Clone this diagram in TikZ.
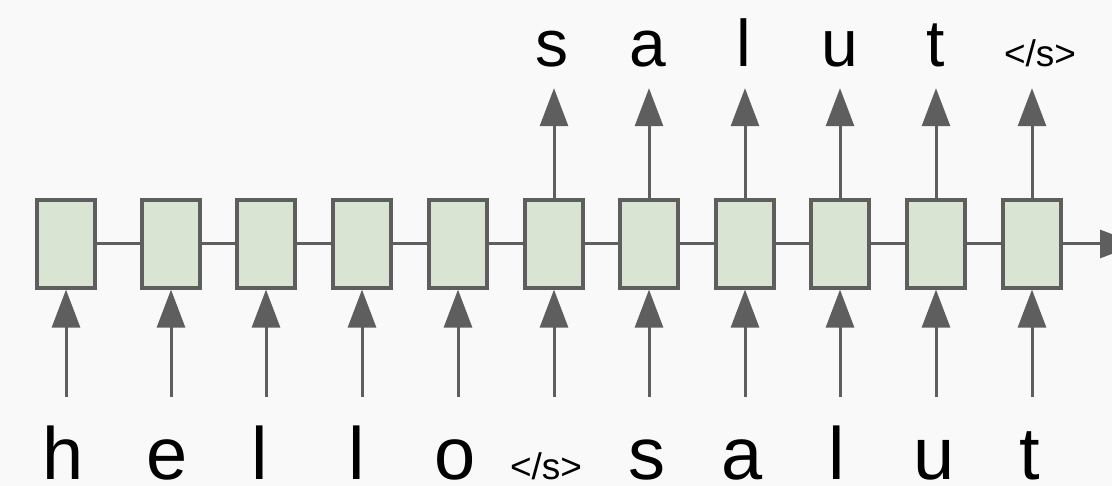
\documentclass[tikz,border=0pt]{standalone}
\usepackage{fontspec}
\setmainfont{Liberation Sans}
\usepackage{xcolor}
\usetikzlibrary{arrows.meta}

\definecolor{bgcol}{HTML}{F9F9F9}
\definecolor{cellfill}{HTML}{D9E5D2}
\definecolor{linecol}{HTML}{5E5E5E}

\begin{document}
\begin{tikzpicture}[x=1pt, y=-1pt,
    cell/.style={draw=linecol, fill=cellfill, line width=3.2pt, minimum width=58pt, minimum height=88pt, inner sep=0pt},
    link/.style={draw=linecol, line width=3pt},
    feed/.style={draw=linecol, line width=3pt, -{Triangle[length=38pt, width=28pt]}},
    inword/.style={anchor=base, font=\fontsize{74}{76}\selectfont, text height=82pt, text depth=0pt, inner sep=0pt},
    outword/.style={anchor=base, font=\fontsize{66}{70}\selectfont, text height=40pt, text depth=21pt, inner sep=0pt},
    eos/.style={font=\fontsize{37}{40}\selectfont}]
    \fill[bgcol] (0,0) rectangle (1112,486);
    \clip (0,0) rectangle (1112,486);

    % encoder / decoder cells
    \node[cell] (c1) at (66, 244) {};
    \node[cell] (c2) at (171, 244) {};
    \node[cell] (c3) at (266, 244) {};
    \node[cell] (c4) at (362, 244) {};
    \node[cell] (c5) at (458, 244) {};
    \node[cell] (c6) at (554, 244) {};
    \node[cell] (c7) at (649, 244) {};
    \node[cell] (c8) at (745, 244) {};
    \node[cell] (c9) at (840, 244) {};
    \node[cell] (c10) at (936, 244) {};
    \node[cell] (c11) at (1032, 244) {};
    \coordinate (tail) at (1138, 244);

    % input tokens
    \node[inword] (in1) at (63, 479) {h};
    \node[inword] (in2) at (167, 479) {e};
    \node[inword] (in3) at (260, 479) {l};
    \node[inword] (in4) at (357, 479) {l};
    \node[inword] (in5) at (455, 479) {o};
    \node[inword, eos] (in6) at (546, 479) {</s>};
    \node[inword] (in7) at (647, 479) {s};
    \node[inword] (in8) at (742, 479) {a};
    \node[inword] (in9) at (837, 479) {l};
    \node[inword] (in10) at (934, 479) {u};
    \node[inword] (in11) at (1030, 479) {t};

    % output tokens
    \node[outword] (out6) at (552, 67) {s};
    \node[outword] (out7) at (648, 67) {a};
    \node[outword] (out8) at (744, 67) {l};
    \node[outword] (out9) at (840, 67) {u};
    \node[outword] (out10) at (936, 67) {t};
    \node[outword, eos] (out11) at (1040, 67) {</s>};

    % recurrent links
    \draw[link] (c1) -- (c2);
    \draw[link] (c2) -- (c3);
    \draw[link] (c3) -- (c4);
    \draw[link] (c4) -- (c5);
    \draw[link] (c5) -- (c6);
    \draw[link] (c6) -- (c7);
    \draw[link] (c7) -- (c8);
    \draw[link] (c8) -- (c9);
    \draw[link] (c9) -- (c10);
    \draw[link] (c10) -- (c11);
    \draw[feed] (c11) -- (tail);

    % inputs into the cells
    \draw[feed] (in1.north -| c1) -- (c1);
    \draw[feed] (in2.north -| c2) -- (c2);
    \draw[feed] (in3.north -| c3) -- (c3);
    \draw[feed] (in4.north -| c4) -- (c4);
    \draw[feed] (in5.north -| c5) -- (c5);
    \draw[feed] (in6.north -| c6) -- (c6);
    \draw[feed] (in7.north -| c7) -- (c7);
    \draw[feed] (in8.north -| c8) -- (c8);
    \draw[feed] (in9.north -| c9) -- (c9);
    \draw[feed] (in10.north -| c10) -- (c10);
    \draw[feed] (in11.north -| c11) -- (c11);

    % outputs from the decoder cells
    \draw[feed] (c6) -- (out6.south -| c6);
    \draw[feed] (c7) -- (out7.south -| c7);
    \draw[feed] (c8) -- (out8.south -| c8);
    \draw[feed] (c9) -- (out9.south -| c9);
    \draw[feed] (c10) -- (out10.south -| c10);
    \draw[feed] (c11) -- (out11.south -| c11);
\end{tikzpicture}
\end{document}
